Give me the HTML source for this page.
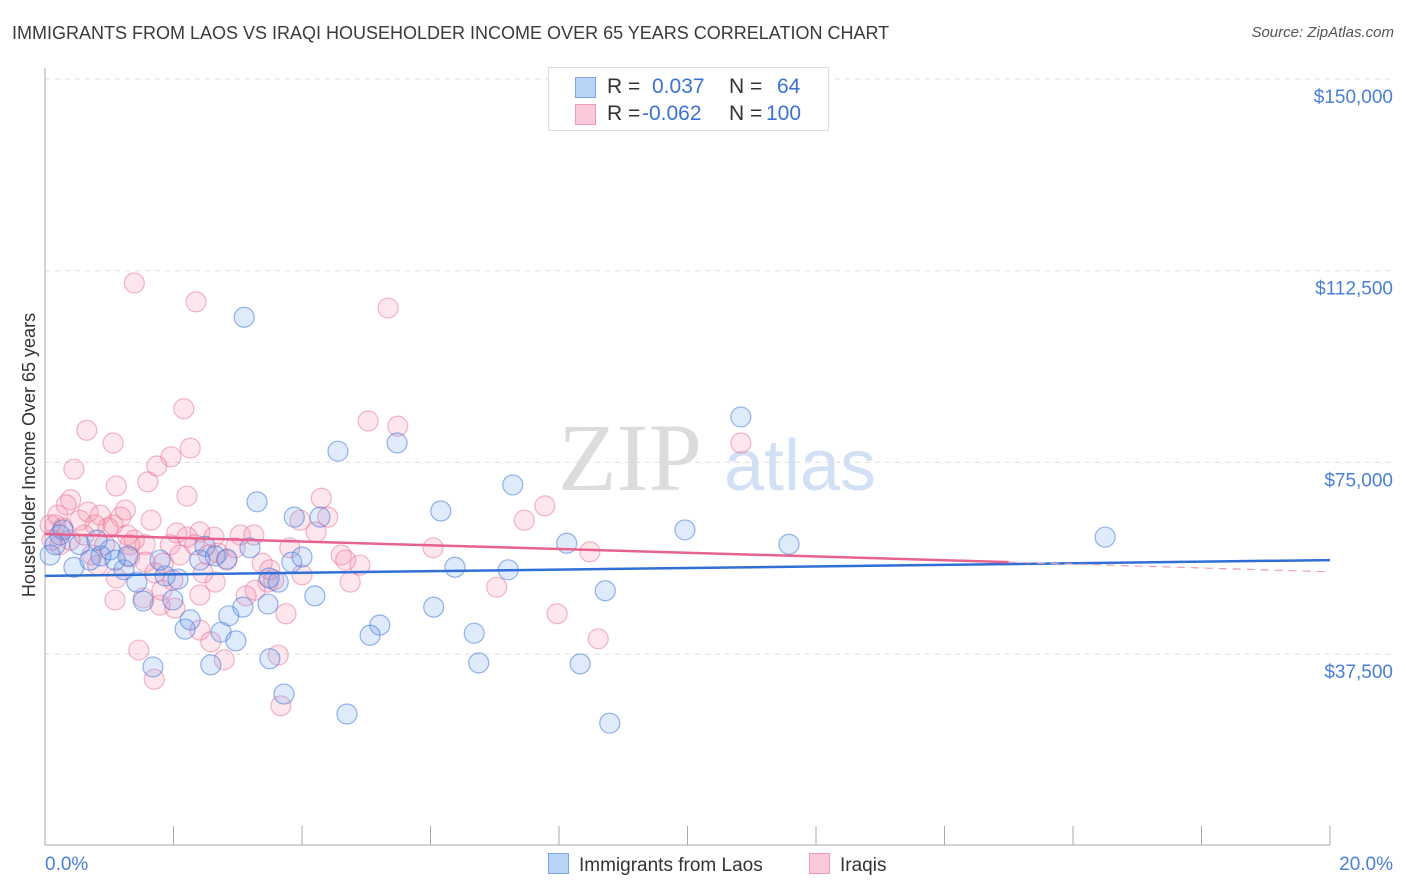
<!DOCTYPE html>
<html><head><meta charset="utf-8"><style>
body{margin:0;background:#fff;font-family:"Liberation Sans",sans-serif;}
#wrap{position:relative;width:1406px;height:892px;overflow:hidden;}
.t{position:absolute;white-space:nowrap;}
</style></head><body>
<div id="wrap">
<div class="t" style="left:12px;top:23px;font-size:18px;color:#3a3a3a;">IMMIGRANTS FROM LAOS VS IRAQI HOUSEHOLDER INCOME OVER 65 YEARS CORRELATION CHART</div>
<div class="t" style="right:12px;top:24px;font-size:15px;color:#555;font-style:italic;">Source: ZipAtlas.com</div>
<svg id="svg" width="1406" height="892" style="position:absolute;left:0;top:0">
<text x="630" y="490" font-size="96" fill="#dcdcdc" font-family="Liberation Serif" text-anchor="middle">ZIP</text>
<text x="800" y="490" font-size="72" fill="#d2e0f5" font-family="Liberation Sans" text-anchor="middle">atlas</text>
<g id="grid"></g><g id="pts"></g><g id="lines"></g>
<text x="35" y="455" font-size="18" fill="#333" text-anchor="middle" transform="rotate(-90 35 455)">Householder Income Over 65 years</text>
<text x="45" y="870" font-size="19" fill="#4a7fd6">0.0%</text>
<text x="1393" y="870" font-size="19" fill="#4a7fd6" text-anchor="end">20.0%</text>
</svg>
<div style="position:absolute;left:548px;top:67px;width:279px;height:62px;border:1px solid #ddd;background:#fff;font-size:21px;">
 <div style="position:absolute;left:26px;top:9px;width:19px;height:19px;background:#b9d3f5;border:1px solid #7aa6e6"></div>
 <div class="t" style="left:58px;top:7px;color:#333">R = </div><div class="t" style="left:103px;top:7px;color:#3a72d4">0.037</div>
 <div class="t" style="left:180px;top:7px;color:#333">N = </div><div class="t" style="left:228px;top:7px;color:#3a72d4">64</div>
 <div style="position:absolute;left:26px;top:36px;width:19px;height:19px;background:#fbcad8;border:1px solid #ee9ab4"></div>
 <div class="t" style="left:58px;top:34px;color:#333">R = </div><div class="t" style="left:93px;top:34px;color:#3a72d4">-0.062</div>
 <div class="t" style="left:180px;top:34px;color:#333">N = </div><div class="t" style="left:217px;top:34px;color:#3a72d4">100</div>
</div>
<div style="position:absolute;left:548px;top:853px;font-size:19px;color:#333">
 <span style="display:inline-block;width:19px;height:19px;background:#b9d3f5;border:1px solid #7aa6e6;vertical-align:-3px;margin-right:10px"></span>Immigrants from Laos</div>
<div style="position:absolute;left:809px;top:853px;font-size:19px;color:#333">
 <span style="display:inline-block;width:19px;height:19px;background:#fbcad8;border:1px solid #ee9ab4;vertical-align:-3px;margin-right:10px"></span>Iraqis</div>
</div>
<script>
const yTicks=[150000,112500,75000,37500];
const yTickLabels=["$150,000","$112,500","$75,000","$37,500"];
const xTicks=[0,2,4,6,8,10,12,14,16,18,20];
const laosX=[3.10,10.83,5.48,4.56,7.28,3.30,6.16,3.88,4.28,9.96,16.50,11.58,8.12,3.19,2.49,2.65,2.83,3.84,4.00,6.38,7.21,1.23,0.45,0.87,0.70,0.23,0.16,0.08,1.29,1.01,2.07,1.87,1.43,3.49,3.63,8.72,4.20,1.99,1.53,3.47,3.08,6.05,2.18,2.26,2.86,2.74,2.97,5.21,5.06,6.68,1.68,2.58,3.50,6.75,8.33,3.72,4.70,8.79,0.28,0.54,0.81,1.09,2.41,1.79];
const laosY=[103400,83900,78800,77200,70600,67300,65500,64300,64300,61800,60400,59000,59200,58300,58600,56700,56100,55500,56500,54500,54000,54000,54500,56700,55900,60800,58900,56900,56700,57900,52200,52800,51600,52400,51600,49900,48900,48100,47900,47300,46700,46700,42400,44200,45000,41800,40100,43200,41200,41600,35000,35400,36600,35800,35600,29700,25800,24000,61800,58900,59800,55900,55900,55900];
const iraqX=[1.39,2.35,5.34,2.16,5.03,5.49,0.65,1.06,2.26,1.96,0.45,10.83,1.74,1.60,1.11,2.21,4.30,7.78,0.40,0.33,0.67,0.86,1.18,1.65,7.46,0.54,0.28,0.16,0.98,1.28,2.05,2.41,2.21,2.63,3.04,3.25,3.97,4.40,4.22,6.04,8.48,4.61,4.68,4.90,1.95,1.56,1.39,0.93,0.73,0.23,0.11,0.82,1.32,1.84,2.54,2.69,3.38,4.00,2.46,1.11,1.71,1.99,3.47,3.56,2.65,4.75,7.03,1.53,1.79,2.02,3.75,7.97,2.41,2.58,8.61,1.46,2.79,1.70,3.63,3.67,0.08,0.20,0.39,0.61,0.78,1.06,1.32,2.33,2.83,2.96,3.13,3.50,3.81,1.56,1.82,2.41,1.09,3.27,2.10,1.25];
const iraqY=[110100,106400,105200,85500,83100,82100,81300,78800,77800,76100,73700,78800,74300,71200,70400,68400,68000,66500,67700,66700,65300,64700,64300,63700,63700,63700,62200,62800,62200,60800,61200,61400,60400,60400,60800,60800,63700,64300,61400,58300,57500,56900,55900,54900,58900,58900,59800,58900,56900,58900,59800,54900,56500,55300,56900,57300,55300,53000,53400,52400,53400,52000,51600,52000,51600,51600,50600,48500,47100,46500,45400,45400,42200,39900,40500,38300,36400,32600,37300,27400,62800,64700,59800,60800,62800,62800,58900,58900,55900,58300,48900,54000,58300,55500,50000,49100,48100,50000,56900,65700];
const laosTrendX=[0,20], laosTrendY=[52800,55900];
const iraqTrendX=[0,15,20], iraqTrendY=[61000,55500,53600];
const NS="http://www.w3.org/2000/svg";
const xs=v=>45+v*64.25, ys=v=>79+(150000-v)/195.6;
function mk(tag,attrs,parent){const e=document.createElementNS(NS,tag);for(const k in attrs)e.setAttribute(k,attrs[k]);parent.appendChild(e);return e;}
const grid=document.getElementById('grid'),pts=document.getElementById('pts'),lines=document.getElementById('lines');
yTicks.forEach((t,i)=>{
 const l=mk('line',{x1:45,x2:1395,y1:ys(t),y2:ys(t),stroke:'#ddd','stroke-dasharray':'5,5'},grid);
 
 
 const tx=mk('text',{x:1393,y:ys(t)+24,'font-size':19,fill:'#4a7fd6','text-anchor':'end'},grid);
 tx.textContent=yTickLabels[i];
 
 
});
const ax=mk('line',{x1:45,x2:45,y1:68,y2:845,stroke:'#aaa'},grid);


const bx=mk('line',{x1:45,x2:1330,y1:845,y2:845,stroke:'#aaa'},grid);


xTicks.forEach(t=>{
 const l=mk('line',{x1:xs(t),x2:xs(t),y1:826,y2:845,stroke:'#aaa'},grid);
 
 
});
function drawPts(X,Y,fill,stroke,name){
 X.forEach((x,i)=>{
  const c=mk('circle',{cx:xs(x),cy:ys(Y[i]),r:10,fill:fill,stroke:stroke,'stroke-width':1.2},pts);
  
  
 });
}
drawPts(iraqX,iraqY,'rgba(244,140,170,0.22)','rgba(232,110,150,0.5)','iraqi-point');
drawPts(laosX,laosY,'rgba(110,160,235,0.22)','rgba(60,120,220,0.55)','laos-point');
const lt=mk('line',{x1:xs(laosTrendX[0]),y1:ys(laosTrendY[0]),x2:xs(laosTrendX[1]),y2:ys(laosTrendY[1]),stroke:'#2f6fd6','stroke-width':2.5},lines);


const it=mk('line',{x1:xs(iraqTrendX[0]),y1:ys(iraqTrendY[0]),x2:xs(iraqTrendX[1]),y2:ys(iraqTrendY[1]),stroke:'#e8628f','stroke-width':2.5},lines);


const id=mk('line',{x1:xs(iraqTrendX[1]),y1:ys(iraqTrendY[1]),x2:xs(iraqTrendX[2]),y2:ys(iraqTrendY[2]),stroke:'#e8a0b8','stroke-width':1.2,'stroke-dasharray':'8,6'},lines);


</script>
</body></html>
